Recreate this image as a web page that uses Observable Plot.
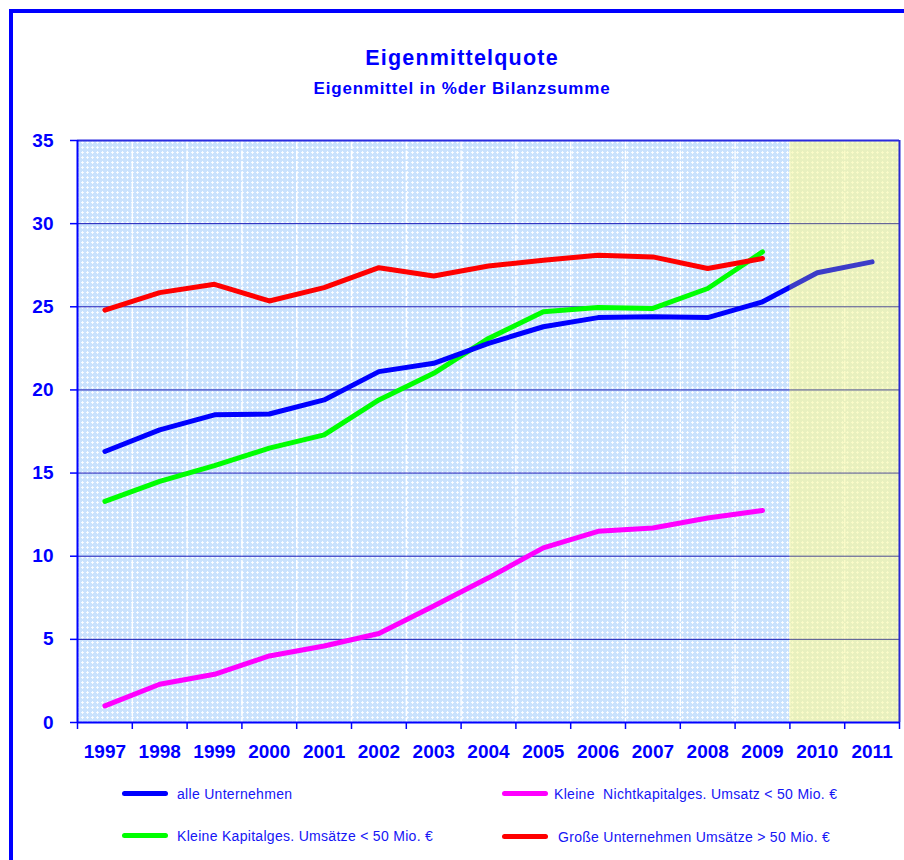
<!DOCTYPE html>
<html>
<head>
<meta charset="utf-8">
<script src="https://cdn.jsdelivr.net/npm/d3@7"></script>
<script src="https://cdn.jsdelivr.net/npm/@observablehq/plot@0.6"></script>
<style>
  html, body { margin: 0; padding: 0; background: #fff; overflow: hidden; }
  body { width: 904px; height: 860px; position: relative; font-family: "Liberation Sans", Arial, sans-serif; }
  #fh { position: absolute; left: 9px; top: 9px; width: 895px; height: 3.5px; background: #0000ff; }
  #fv { position: absolute; left: 9px; top: 9px; width: 3.5px; height: 851px; background: #0000ff; }
  #cover { position: absolute; left: 901px; top: 13px; width: 3px; height: 847px; background: #fff; z-index: 5; }
  #chart { position: absolute; left: 0; top: 0; }
  #chart svg text { font-size: 19px; font-weight: bold; fill: #0000ff; }
  .title { position: absolute; left: 0; width: 924px; text-align: center; color: #0000ff; font-weight: bold; white-space: nowrap; line-height: 1; }
  #t1 { top: 48px; font-size: 21.5px; letter-spacing: 1.2px; }
  #t2 { top: 80px; font-size: 17px; letter-spacing: 0.8px; }
  .sw { position: absolute; width: 46px; height: 5px; border-radius: 3px; }
  .lt { position: absolute; font-size: 14px; color: #1515f5; letter-spacing: 0.3px; white-space: pre; line-height: 1; }
</style>
</head>
<body>
<div id="chart"></div>
<div id="fh"></div>
<div id="fv"></div>
<div id="cover"></div>
<div class="title" id="t1">Eigenmittelquote</div>
<div class="title" id="t2">Eigenmittel in %der Bilanzsumme</div>
<div id="legend"></div>
<script>
// ---- data ----
const years = [1997, 1998, 1999, 2000, 2001, 2002, 2003, 2004, 2005, 2006, 2007, 2008, 2009, 2010, 2011];
const forecastYears = [2010, 2011];
const alleUnternehmen = [16.3, 17.6, 18.5, 18.55, 19.4, 21.1, 21.6, 22.8, 23.8, 24.35, 24.4, 24.35, 25.3, 27.05, 27.7];
const kleineNichtkapital = [1.0, 2.3, 2.9, 4.0, 4.6, 5.35, 7.0, 8.7, 10.5, 11.5, 11.7, 12.3, 12.75];
const kleineKapital = [13.3, 14.5, 15.45, 16.5, 17.3, 19.4, 21.0, 23.1, 24.7, 24.95, 24.9, 26.1, 28.3];
const grosseUnternehmen = [24.8, 25.85, 26.35, 25.35, 26.15, 27.35, 26.85, 27.45, 27.8, 28.1, 28.0, 27.3, 27.9];
const seriesNames = ["alle Unternehmen", "Kleine  Nichtkapitalges. Umsatz < 50 Mio. €", "Kleine Kapitalges. Umsätze < 50 Mio. €", "Große Unternehmen Umsätze > 50 Mio. €"];
const seriesColors = ["#0000ff", "#ff00ff", "#00ff00", "#ff0000"];
const yTicks = [0, 5, 10, 15, 20, 25, 30, 35];

// ---- derived ----
const seriesValues = [alleUnternehmen, kleineNichtkapital, kleineKapital, grosseUnternehmen];
const boundaries = years.map(y => y - 0.5).concat([years[years.length - 1] + 0.5]);
const xMin = years[0] - 0.5, xMax = years[years.length - 1] + 0.5;
const yMin = yTicks[0], yMax = yTicks[yTicks.length - 1];
const region = [{x1: xMin, x2: xMax, y1: yMin, y2: yMax}];
const forecastRegion = [{x1: forecastYears[0] - 0.5, x2: forecastYears[forecastYears.length - 1] + 0.5, y1: yMin, y2: yMax}];
const inner = boundaries.slice(1, -1);
const gridY = yTicks.filter(v => v > yMin && v < yMax);
const drawOrder = [1, 2, 3, 0];

const lineMarks = drawOrder.map(k => Plot.lineY(seriesValues[k], {
  x: years.slice(0, seriesValues[k].length),
  stroke: seriesColors[k], strokeWidth: 5, strokeLinejoin: "round", strokeLinecap: "round"
}));

const chart = Plot.plot({
  width: 904, height: 780,
  marginLeft: 77, marginRight: 5, marginTop: 140, marginBottom: 58,
  x: {domain: [xMin, xMax]},
  y: {domain: [yMin, yMax]},
  style: {background: "transparent", color: "#0000ff", fontFamily: "'Liberation Sans', Arial, sans-serif", overflow: "visible"},
  marks: [
    Plot.rect(region, {x1: "x1", x2: "x2", y1: "y1", y2: "y2", fill: "url(#bgpat)"}),
    Plot.rect(forecastRegion, {x1: "x1", x2: "x2", y1: "y1", y2: "y2", fill: "url(#fcpat)"}),
    Plot.ruleX(inner, {stroke: "#ffffff", strokeWidth: 1.4, strokeDasharray: "9,1.5"}),
    Plot.ruleY(gridY, {stroke: "#1a1ab8", strokeWidth: 1}),
    ...lineMarks,
    Plot.rect(forecastRegion, {x1: "x1", x2: "x2", y1: "y1", y2: "y2", fill: "#f0f023", fillOpacity: 0.25}),
    Plot.ruleY([yMax], {stroke: "#2a2ae0", strokeWidth: 2}),
    Plot.ruleX([xMax], {stroke: "#2a2ad0", strokeWidth: 2}),
    Plot.ruleX([xMin], {stroke: "#0000ff", strokeWidth: 2}),
    Plot.ruleY([yMin], {stroke: "#0000ff", strokeWidth: 2}),
    Plot.axisY({ticks: yTicks, tickSize: 7, tickPadding: 17, tickFormat: d => String(d), label: null, strokeWidth: 1.5}),
    Plot.axisX({ticks: boundaries, tickSize: 7, tickFormat: () => "", label: null, strokeWidth: 1.5}),
    Plot.axisX({ticks: years, tickSize: 0, tickPadding: 22, tickFormat: d => String(d), label: null})
  ]
});

const defs = document.createElementNS("http://www.w3.org/2000/svg", "defs");
defs.innerHTML =
  '<pattern id="bgpat" x="0" y="0" width="5" height="5" patternUnits="userSpaceOnUse">' +
  '<rect width="5" height="5" fill="#cae2fd"/>' +
  '<rect x="1" y="2" width="3" height="1" fill="#ffffff" fill-opacity="0.85"/>' +
  '<rect x="2" y="1" width="1" height="3" fill="#ffffff" fill-opacity="0.85"/>' +
  '</pattern>' +
  '<pattern id="fcpat" x="0" y="0" width="5" height="5" patternUnits="userSpaceOnUse">' +
  '<rect width="5" height="5" fill="#e6f0f2"/>' +
  '<rect x="1" y="2" width="3" height="1" fill="#ffffff" fill-opacity="0.9"/>' +
  '<rect x="2" y="1" width="1" height="3" fill="#ffffff" fill-opacity="0.9"/>' +
  '</pattern>';
chart.insertBefore(defs, chart.firstChild);
document.getElementById("chart").appendChild(chart);

// ---- legend ----
const legendPos = [
  {sx: 122, sy: 793, tx: 177},
  {sx: 502, sy: 793, tx: 554},
  {sx: 122, sy: 835, tx: 177},
  {sx: 502, sy: 836, tx: 558}
];
const legend = document.getElementById("legend");
seriesNames.forEach((name, i) => {
  const p = legendPos[i];
  const sw = document.createElement("div");
  sw.className = "sw";
  sw.style.left = p.sx + "px";
  sw.style.top = (p.sy - 2.5) + "px";
  sw.style.background = seriesColors[i];
  legend.appendChild(sw);
  const t = document.createElement("div");
  t.className = "lt";
  t.style.left = p.tx + "px";
  t.style.top = (p.sy - 6.5) + "px";
  t.textContent = name;
  legend.appendChild(t);
});
</script>
</body>
</html>
